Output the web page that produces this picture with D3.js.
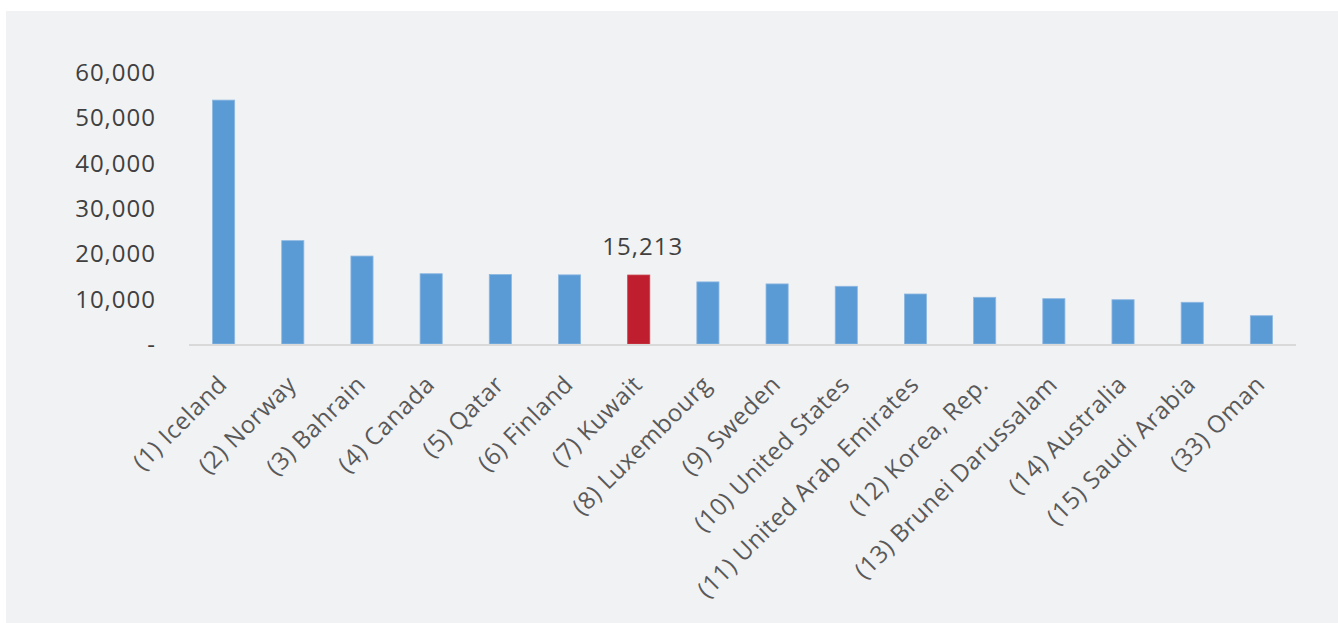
<!DOCTYPE html>
<html>
<head>
<meta charset="utf-8">
<script src="https://cdn.jsdelivr.net/npm/d3@7"></script>
<style>
  html, body { margin: 0; padding: 0; background: #ffffff; }
  svg { display: block; }
</style>
</head>
<body>
<svg id="chart" width="1338" height="623"></svg>
<script>
const categories = [
  "(1) Iceland", "(2) Norway", "(3) Bahrain", "(4) Canada", "(5) Qatar",
  "(6) Finland", "(7) Kuwait", "(8) Luxembourg", "(9) Sweden",
  "(10) United States", "(11) United Arab Emirates", "(12) Korea, Rep.",
  "(13) Brunei Darussalam", "(14) Australia", "(15) Saudi Arabia", "(33) Oman"
];
const values = [
  53800, 22800, 19400, 15500, 15350,
  15250, 15213, 13700, 13250,
  12730, 11030, 10300,
  10000, 9770, 9200, 6240
];
const highlighted = ["(7) Kuwait"];
const tickValues = [0, 10000, 20000, 30000, 40000, 50000, 60000];
const tickLabels = ["-", "10,000", "20,000", "30,000", "40,000", "50,000", "60,000"];

const svg = d3.select("#chart");
const FONT = "'Open Sans', 'Noto Sans', sans-serif";

// panel background
svg.append("rect")
  .attr("x", 6).attr("y", 11)
  .attr("width", 1338 - 6).attr("height", 623 - 11)
  .attr("fill", "#f1f2f4");

const x = d3.scaleBand()
  .domain(categories)
  .range([189, 1296])
  .paddingInner(0.68)
  .paddingOuter(0.34);

const y = d3.scaleLinear()
  .domain([0, 60000])
  .range([344, 72]);

// y tick labels
const yAxis = d3.axisLeft(y)
  .tickValues(tickValues)
  .tickFormat((d, i) => tickLabels[i])
  .tickSize(0)
  .tickPadding(0);
const gy = svg.append("g").attr("transform", "translate(156,0)").call(yAxis);
gy.select(".domain").remove();
gy.selectAll("text")
  .attr("font-family", FONT)
  .attr("font-size", 24)
  .attr("fill", "#404040")
  .attr("letter-spacing", 1.0)
  .attr("dy", "0.35em");

// bars
svg.append("g").selectAll("rect")
  .data(categories)
  .join("rect")
  .attr("x", d => x(d))
  .attr("width", x.bandwidth())
  .attr("y", (d, i) => y(values[i]))
  .attr("height", (d, i) => y(0) - y(values[i]))
  .attr("fill", d => highlighted.includes(d) ? "#be1e2d" : "#5b9bd5")
  .attr("stroke", d => highlighted.includes(d) ? "#c94450" : "#8db8e2")
  .attr("stroke-width", 0.8);

// x axis line
svg.append("line")
  .attr("x1", 189).attr("x2", 1296)
  .attr("y1", y(0) + 1).attr("y2", y(0) + 1)
  .attr("stroke", "#d9d9d9")
  .attr("stroke-width", 2);

// data label for highlighted bar
categories.forEach((c, i) => {
  if (highlighted.includes(c)) {
    svg.append("text")
      .attr("x", x(c) + x.bandwidth() / 2 + 4)
      .attr("y", y(values[i]) - 20)
      .attr("text-anchor", "middle")
      .attr("font-family", FONT)
      .attr("font-size", 24)
      .attr("letter-spacing", 1.0)
      .attr("fill", "#404040")
      .text(d3.format(",")(values[i]));
  }
});

// category labels
const xAxis = d3.axisBottom(x).tickSize(0).tickPadding(0);
const gx = svg.append("g").attr("transform", "translate(5,386)").call(xAxis);
gx.select(".domain").remove();
gx.selectAll("text")
  .attr("font-family", FONT)
  .attr("font-size", 24)
  .attr("letter-spacing", 0.6)
  .attr("fill", "#595959")
  .attr("text-anchor", "end")
  .attr("dy", 0)
  .attr("y", 0)
  .attr("transform", "rotate(-45)");
</script>
</body>
</html>
